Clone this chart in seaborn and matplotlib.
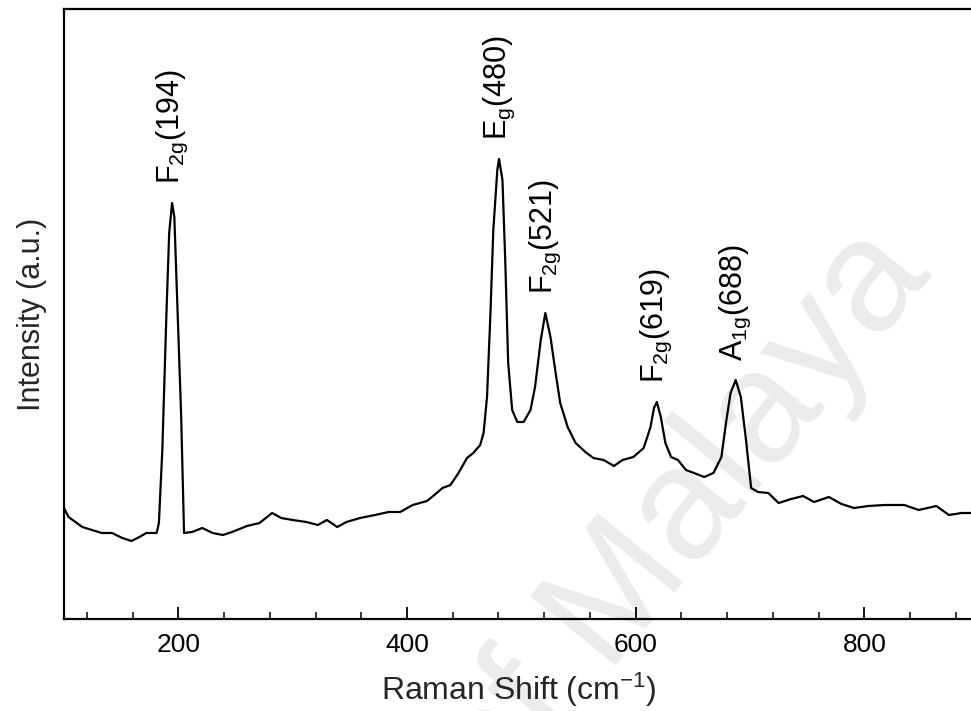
import matplotlib
matplotlib.use("Agg")
import matplotlib.pyplot as plt
import seaborn as sns
import pandas as pd
from matplotlib.ticker import MultipleLocator

# Raman spectrum (wavenumber in cm^-1, intensity in arbitrary units)
raman_shift = [
    100, 104, 116, 133, 142, 151, 159, 166, 172, 181, 183, 186, 189.5, 192,
    194.5, 196.5, 199, 202.5, 205, 212, 221, 230, 239, 247, 260, 271, 282,
    290, 300, 312, 322, 330, 339, 347, 359, 372, 384, 394, 405, 417.5, 426,
    431, 438, 445, 452.5, 458, 464, 467, 470, 473, 475.5, 479, 480.5, 483.5,
    486, 488.5, 492, 496.5, 502, 508, 512, 517, 521, 525.5, 530, 534, 540.5,
    547.5, 556, 563, 572, 581, 588.5, 598, 607, 613, 616, 618.5, 622, 626,
    631, 637, 644, 651, 660, 668, 675, 679, 683, 687.5, 692, 696.5, 701, 707,
    716, 725, 736, 746.5, 756, 769, 780, 791, 803.5, 817.5, 835, 847.5, 863,
    874, 885, 895,
]
intensity = [
    111, 102, 92, 86, 86, 81, 78, 82, 86, 86, 96, 169, 302, 386,
    416, 402, 319, 202, 86, 87, 91, 86, 84, 87, 93, 96, 106,
    101, 99, 97, 94, 99, 92, 97, 101, 104, 107, 107, 114, 118, 126,
    131, 134, 146, 161, 166, 174, 186, 222, 306, 389, 449, 460, 439,
    356, 256, 209, 197, 197, 209, 232, 279, 306, 282, 246, 216, 192,
    176, 167, 161, 159, 153, 159, 162, 171, 192, 211, 217, 202, 176,
    162, 159, 149, 146, 142, 146, 162, 196, 226, 239, 222, 179, 131, 127,
    126, 116, 120, 123, 117, 122, 115, 111, 113, 114, 114, 109, 113,
    104, 106, 106,
]

# Assigned Raman modes: label text, peak position, peak intensity
mode_labels = [r"F$_{2g}$(194)", r"E$_{g}$(480)", r"F$_{2g}$(521)",
               r"F$_{2g}$(619)", r"A$_{1g}$(688)"]
mode_shift = [194.5, 480.5, 521, 618.5, 687.5]
mode_height = [416, 460, 306, 217, 239]

x_ticks = [200, 400, 600, 800]

df = pd.DataFrame({"shift": raman_shift, "intensity": intensity})

sns.set_theme(style="ticks")
plt.rcParams["font.family"] = ["Liberation Sans", "DejaVu Sans"]
plt.rcParams["mathtext.default"] = "regular"

fig = plt.figure(figsize=(9.71, 7.11), dpi=100)
ax = fig.add_axes([64 / 971, 1 - 619 / 711, 1 - 64 / 971 + 0.002, (619 - 9) / 711])
ax.set_facecolor("none")

# faint background watermark
ax.text(0.68, 0.165, "of Malaya", transform=ax.transAxes, fontsize=115,
        color="#ebebeb", rotation=51, ha="center", va="center",
        zorder=0.5, clip_on=False)

sns.lineplot(data=df, x="shift", y="intensity", ax=ax, color="black",
             linewidth=1.6, zorder=3)

for lab, xs, yh in zip(mode_labels, mode_shift, mode_height):
    ax.annotate(lab, xy=(xs, yh), xytext=(0, 14), textcoords="offset points",
                rotation=90, ha="center", va="bottom", fontsize=22,
                color="black", zorder=4)

ax.set_xlim(100, 895)
ax.set_ylim(0, 610)
ax.set_xticks(x_ticks)
ax.xaxis.set_minor_locator(MultipleLocator(40))
ax.set_yticks([])
ax.tick_params(axis="x", which="major", direction="in", length=9, width=1.3,
               labelsize=19, pad=10, colors="black")
ax.tick_params(axis="x", which="minor", direction="in", length=5, width=1.3)
for side in ["left", "bottom", "top"]:
    ax.spines[side].set_linewidth(1.6)
    ax.spines[side].set_color("black")
ax.spines["right"].set_visible(False)

ax.set_xlabel("Raman Shift (cm$^{-1}$)", fontsize=23, labelpad=10)
ax.set_ylabel("Intensity (a.u.)", fontsize=22, labelpad=12)

fig.savefig("out.png", dpi=100)
